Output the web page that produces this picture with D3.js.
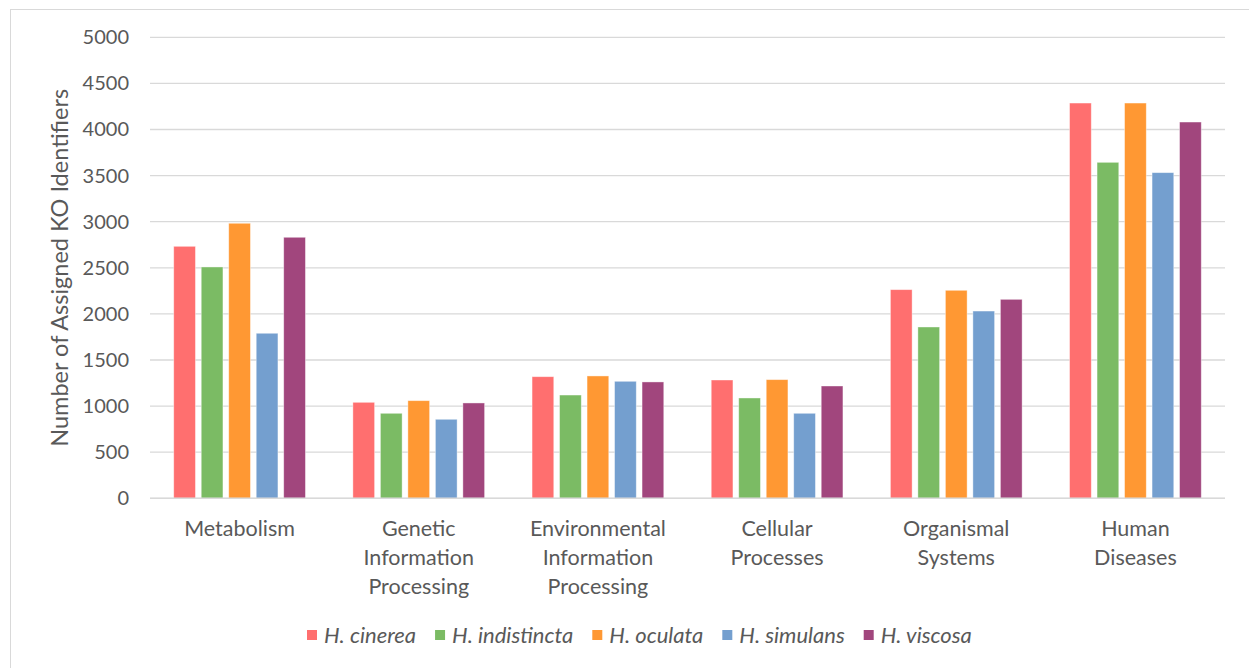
<!DOCTYPE html>
<html>
<head>
<meta charset="utf-8">
<script src="https://cdn.jsdelivr.net/npm/d3@7"></script>
<style>
  html, body { margin: 0; padding: 0; background: #fff; }
  svg { display: block; }
  text { font-family: Lato, "Open Sans", sans-serif; fill: #595959; }
</style>
</head>
<body>
<svg id="chart" width="1249" height="668"></svg>
<script>
// KEGG pathway categories (multi-line labels)
const categories = [
  ["Metabolism"],
  ["Genetic", "Information", "Processing"],
  ["Environmental", "Information", "Processing"],
  ["Cellular", "Processes"],
  ["Organismal", "Systems"],
  ["Human", "Diseases"]
];
const species = ["H. cinerea", "H. indistincta", "H. oculata", "H. simulans", "H. viscosa"];
const colors = ["#FF6F6F", "#7BBB64", "#FF9833", "#749FCF", "#A1467D"];

// Assigned KO identifiers per species, in category order
const cinerea     = [2733, 1041, 1319, 1283, 2263, 4287];
const indistincta = [2509,  922, 1120, 1088, 1858, 3644];
const oculata     = [2983, 1059, 1327, 1287, 2256, 4287];
const simulans    = [1790,  857, 1269,  922, 2031, 3532];
const viscosa     = [2831, 1034, 1262, 1218, 2158, 4081];
const seriesValues = [cinerea, indistincta, oculata, simulans, viscosa];

const yTicks = [0, 500, 1000, 1500, 2000, 2500, 3000, 3500, 4000, 4500, 5000];

const svg = d3.select("#chart");

// chart frame
svg.append("rect")
  .attr("x", 10.5).attr("y", 9.5)
  .attr("width", 1260).attr("height", 680)
  .attr("fill", "none").attr("stroke", "#d9d9d9").attr("stroke-width", 1);

const plotLeft = 150, plotRight = 1225, plotTop = 37.3, plotBottom = 498.3;

const catIdx = d3.range(categories.length);
const x0 = d3.scaleBand().domain(catIdx).range([plotLeft, plotRight])
  .paddingInner(0.2326).paddingOuter(0.1163);
const x1 = d3.scaleBand().domain(d3.range(species.length)).range([0, x0.bandwidth()])
  .paddingInner(0.21).paddingOuter(0.105);
const y = d3.scaleLinear().domain([0, 5000]).range([plotBottom, plotTop]);

// gridlines
svg.append("g").selectAll("line").data(yTicks).join("line")
  .attr("x1", plotLeft).attr("x2", plotRight)
  .attr("y1", d => y(d)).attr("y2", d => y(d))
  .attr("stroke", "#d9d9d9").attr("stroke-width", 1.3);

// y-axis tick labels
const yAxis = d3.axisLeft(y).tickValues(yTicks).tickFormat(d3.format("d"))
  .tickSize(0).tickPadding(0);
const gy = svg.append("g").attr("transform", `translate(${plotLeft - 21},0)`).call(yAxis);
gy.select(".domain").remove();
gy.selectAll("text")
  .attr("font-family", "Lato, 'Open Sans', sans-serif")
  .attr("font-size", 20).attr("fill", "#595959");

// y-axis title
svg.append("text")
  .attr("transform", `translate(68,${(plotTop + plotBottom) / 2}) rotate(-90)`)
  .attr("text-anchor", "middle")
  .attr("font-size", 23.5)
  .text("Number of Assigned KO Identifiers");

// bars
const groups = svg.append("g").selectAll("g").data(catIdx).join("g")
  .attr("transform", c => `translate(${x0(c)},0)`);
groups.selectAll("rect")
  .data(c => seriesValues.map((vals, s) => ({ s, v: vals[c] })))
  .join("rect")
  .attr("x", d => x1(d.s))
  .attr("y", d => y(d.v))
  .attr("width", x1.bandwidth())
  .attr("height", d => y(0) - y(d.v))
  .attr("fill", d => colors[d.s])
  .attr("stroke", "#ffffff").attr("stroke-opacity", 0.5).attr("stroke-width", 0.8);

// baseline
svg.append("line")
  .attr("x1", plotLeft).attr("x2", plotRight)
  .attr("y1", y(0)).attr("y2", y(0))
  .attr("stroke", "#d9d9d9").attr("stroke-width", 1.5);

// category labels
const lab = svg.append("g").selectAll("text").data(catIdx).join("text")
  .attr("text-anchor", "middle")
  .attr("font-size", 21.5)
  .attr("x", c => x0(c) + x0.bandwidth() / 2)
  .attr("y", 536);
lab.selectAll("tspan").data(c => categories[c]).join("tspan")
  .attr("x", function () { return d3.select(this.parentNode).attr("x"); })
  .attr("dy", (d, i) => i === 0 ? 0 : 29)
  .text(d => d);

// legend
const legend = svg.append("g").attr("transform", "translate(307,635)");
let lx = 0;
species.forEach((name, i) => {
  const g = legend.append("g").attr("transform", `translate(${lx},0)`);
  g.append("rect").attr("x", 0).attr("y", -5).attr("width", 10).attr("height", 10)
    .attr("fill", colors[i]);
  const t = g.append("text").attr("x", 17).attr("y", 0).attr("dy", "0.35em")
    .attr("font-size", 22).attr("font-style", "italic").text(name);
  lx += 17 + t.node().getComputedTextLength() + 19;
});
</script>
</body>
</html>
